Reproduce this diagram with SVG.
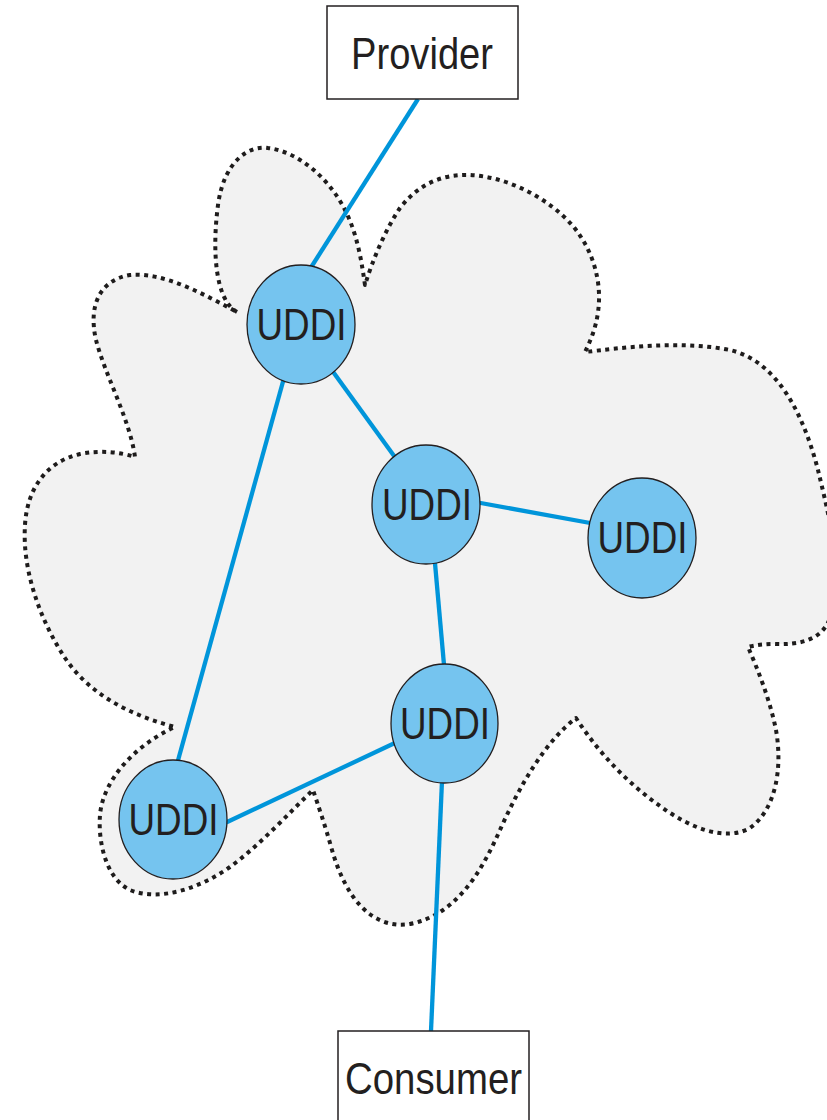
<svg xmlns="http://www.w3.org/2000/svg" width="827" height="1120" viewBox="0 0 827 1120">
  <style>
    .cloud { fill: #f2f2f2; stroke: #1e1c1c; stroke-width: 4; stroke-dasharray: 4 4.5; stroke-linejoin: round; }
    .link { stroke: #0095da; stroke-width: 4.3; fill: none; }
    .node ellipse { fill: #75c4ef; stroke: #231f20; stroke-width: 1.3; }
    .box rect { fill: #ffffff; stroke: #231f20; stroke-width: 1.5; }
    .lbl { font-family: "Liberation Sans", Arial, sans-serif; font-size: 44px; fill: #231f20; }
  </style>
  <rect width="827" height="1120" fill="#ffffff"/>

  <g id="cloud">
    <path class="cloud" d="M237,312 C215,300 212,250 218,205 C224,160 250,145 268,148 C300,152 330,180 345,210 C358,235 362,265 365,285
      C372,262 385,230 400,208 C420,182 445,174 470,175 C510,177 550,200 572,225 C595,252 602,285 598,312 C596,328 590,342 585,352
      C620,348 680,340 730,350 C780,362 805,420 818,470 C830,520 845,580 830,618 C822,640 800,645 775,644 C765,644 755,645 748,647
      C758,670 770,700 776,730 C783,770 775,810 750,828 C725,842 690,828 660,806 C630,785 600,755 576,718
      C545,742 520,785 500,830 C480,875 455,915 410,924 C370,930 345,895 332,850 C325,825 318,805 313,790
      C290,812 260,845 230,867 C200,888 160,902 130,890 C105,878 98,840 100,815 C103,780 135,745 175,727
      C130,715 90,695 65,658 C40,620 22,570 25,525 C27,490 45,462 80,454 C100,450 120,452 135,457
      C130,420 105,375 96,340 C88,305 100,280 130,275 C165,272 205,295 237,312 Z"/>
  </g>

  <g id="connectors">
    <line class="link" x1="418" y1="99" x2="310" y2="269"/>
    <line class="link" x1="284" y1="378" x2="177" y2="764"/>
    <line class="link" x1="331" y1="369" x2="397" y2="460"/>
    <line class="link" x1="478" y1="502.5" x2="593" y2="523.5"/>
    <line class="link" x1="434.8" y1="561" x2="444.2" y2="667"/>
    <line class="link" x1="398" y1="741.5" x2="224" y2="823.5"/>
    <line class="link" x1="442" y1="781" x2="431" y2="1031"/>
  </g>

  <g id="provider" class="box">
    <rect x="327" y="6" width="191" height="93"/>
    <text class="lbl" x="351" y="68.5" textLength="142" lengthAdjust="spacingAndGlyphs">Provider</text>
  </g>
  <g id="consumer" class="box">
    <rect x="338" y="1031" width="191" height="100"/>
    <text class="lbl" x="345" y="1093.5" textLength="177" lengthAdjust="spacingAndGlyphs">Consumer</text>
  </g>

  <g id="uddi1" class="node">
    <ellipse cx="301" cy="324.5" rx="54" ry="59.5"/>
    <text class="lbl" x="301.5" y="340" text-anchor="middle" textLength="90" lengthAdjust="spacingAndGlyphs">UDDI</text>
  </g>
  <g id="uddi2" class="node">
    <ellipse cx="426" cy="504.5" rx="54" ry="59.5"/>
    <text class="lbl" x="427" y="519.5" text-anchor="middle" textLength="90" lengthAdjust="spacingAndGlyphs">UDDI</text>
  </g>
  <g id="uddi3" class="node">
    <ellipse cx="642" cy="538" rx="54" ry="60"/>
    <text class="lbl" x="642.5" y="553" text-anchor="middle" textLength="90" lengthAdjust="spacingAndGlyphs">UDDI</text>
  </g>
  <g id="uddi4" class="node">
    <ellipse cx="444.5" cy="723.5" rx="53.5" ry="59.5"/>
    <text class="lbl" x="445" y="739" text-anchor="middle" textLength="90" lengthAdjust="spacingAndGlyphs">UDDI</text>
  </g>
  <g id="uddi5" class="node">
    <ellipse cx="173" cy="819.5" rx="54" ry="59.5"/>
    <text class="lbl" x="173.5" y="835" text-anchor="middle" textLength="90" lengthAdjust="spacingAndGlyphs">UDDI</text>
  </g>
</svg>
